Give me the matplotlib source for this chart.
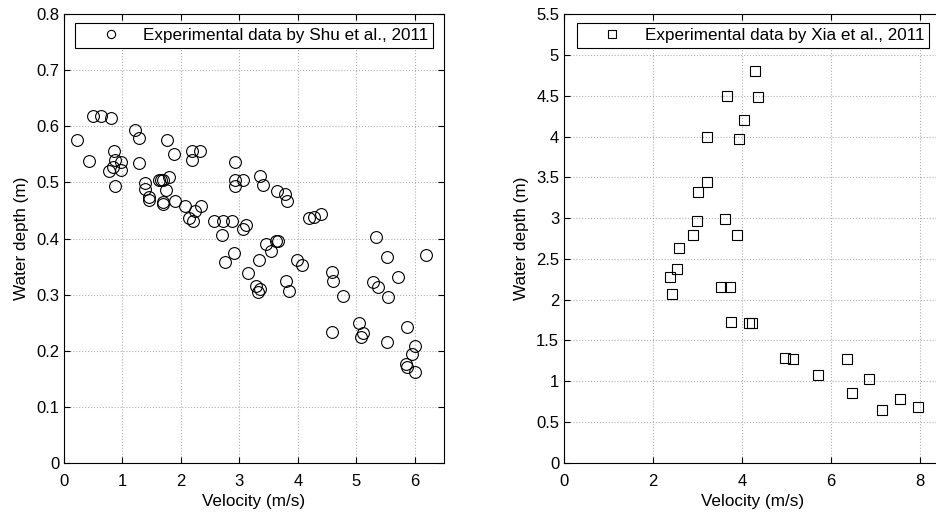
import matplotlib.pyplot as plt

plt.rcParams['font.family'] = ['Liberation Sans', 'DejaVu Sans']

# Shu et al., 2011 (velocity m/s, water depth m)
shu_v = [0.22, 0.50, 0.64, 0.80, 0.43, 0.855, 0.866, 0.97, 0.775, 0.84, 0.98, 0.88,
         1.21, 1.29, 1.29, 1.38, 1.38, 1.46, 1.46, 1.62, 1.66, 1.70, 1.79, 1.75,
         1.70, 1.70, 1.77, 1.89, 1.90, 2.07, 2.19, 2.19, 2.32, 2.14, 2.20, 2.24,
         2.34, 2.56, 2.72, 2.88, 2.70, 2.92, 2.92, 3.07, 2.92, 3.07, 3.11, 2.91,
         2.76, 3.33, 3.15, 3.29, 3.36, 3.32, 3.36, 3.41, 3.64, 3.78, 3.82, 3.45,
         3.62, 3.66, 3.54, 3.79, 3.85, 3.99, 4.07, 4.19, 4.28, 4.39, 4.59, 4.60,
         4.77, 5.33, 5.52, 6.19, 5.29, 5.37, 5.71, 5.54, 4.59, 5.04, 5.11, 5.08,
         5.53, 5.87, 6.01, 5.95, 5.85, 5.87, 6.01]
shu_h = [0.575, 0.618, 0.618, 0.615, 0.539, 0.557, 0.541, 0.536, 0.520, 0.527, 0.523, 0.493,
         0.594, 0.579, 0.535, 0.499, 0.489, 0.475, 0.468, 0.505, 0.505, 0.505, 0.509, 0.486,
         0.466, 0.461, 0.575, 0.551, 0.467, 0.458, 0.556, 0.541, 0.557, 0.436, 0.432, 0.450,
         0.458, 0.432, 0.432, 0.432, 0.407, 0.536, 0.505, 0.504, 0.493, 0.417, 0.425, 0.375,
         0.359, 0.361, 0.339, 0.316, 0.310, 0.304, 0.512, 0.496, 0.484, 0.479, 0.467, 0.391,
         0.396, 0.396, 0.377, 0.324, 0.306, 0.361, 0.352, 0.436, 0.438, 0.443, 0.341, 0.324,
         0.298, 0.402, 0.367, 0.370, 0.322, 0.313, 0.332, 0.296, 0.233, 0.249, 0.231, 0.224,
         0.216, 0.242, 0.208, 0.194, 0.177, 0.171, 0.161]

# Xia et al., 2011 (velocity m/s, water depth m)
xia_v = [4.30, 3.67, 4.37, 4.05, 3.22, 3.94, 3.22, 3.02, 3.00, 3.63, 2.91, 3.90,
         2.59, 2.53, 2.38, 2.43, 3.54, 3.74, 3.76, 4.15, 4.22, 4.96, 5.15, 6.37,
         5.71, 6.86, 6.47, 7.55, 7.14, 7.96]
xia_h = [4.81, 4.50, 4.49, 4.21, 4.00, 3.97, 3.44, 3.32, 2.97, 2.99, 2.79, 2.79,
         2.64, 2.38, 2.28, 2.07, 2.15, 2.16, 1.73, 1.72, 1.71, 1.29, 1.275, 1.27,
         1.08, 1.03, 0.86, 0.78, 0.65, 0.68]

fig = plt.figure(figsize=(9.36, 5.13), dpi=100)
ax1 = fig.add_axes([64 / 936, 0.098, 380 / 936, 0.874])
ax2 = fig.add_axes([564 / 936, 0.098, 378 / 936, 0.874])


def style(ax):
    ax.grid(True, linestyle=':', color='#b0b0b0', linewidth=0.8)
    ax.set_axisbelow(True)
    ax.tick_params(direction='in', top=True, right=True, labelsize=12, length=4)
    ax.tick_params(axis='x', pad=8)
    for s in ax.spines.values():
        s.set_linewidth(0.8)
    ax.set_xlabel('Velocity (m/s)', fontsize=12.3, labelpad=4)
    ax.set_ylabel('Water depth (m)', fontsize=12.3, labelpad=5)


ax1.plot(shu_v, shu_h, 'o', mfc='none', mec='black', ms=8.5, mew=0.8,
         label='Experimental data by Shu et al., 2011')
ax1.set_xlim(0, 6.5)
ax1.set_ylim(0, 0.8)
ax1.set_xticks([0, 1, 2, 3, 4, 5, 6])
ax1.set_yticks([0, 0.1, 0.2, 0.3, 0.4, 0.5, 0.6, 0.7, 0.8])
ax1.set_yticklabels(['0', '0.1', '0.2', '0.3', '0.4', '0.5', '0.6', '0.7', '0.8'])
style(ax1)

ax2.plot(xia_v, xia_h, 's', mfc='none', mec='black', ms=7.5, mew=0.8,
         label='Experimental data by Xia et al., 2011')
ax2.set_xlim(0, 8.5)
ax2.set_ylim(0, 5.5)
ax2.set_xticks([0, 2, 4, 6, 8])
ax2.set_yticks([0, 0.5, 1, 1.5, 2, 2.5, 3, 3.5, 4, 4.5, 5, 5.5])
ax2.set_yticklabels(['0', '0.5', '1', '1.5', '2', '2.5', '3', '3.5', '4', '4.5', '5', '5.5'])
style(ax2)

for ax in (ax1, ax2):
    leg = ax.legend(loc='upper center', fontsize=12.3, fancybox=False,
                    edgecolor='black', framealpha=1, borderpad=0.3,
                    handlelength=3.6, handletextpad=0.1, markerscale=0.7,
                    borderaxespad=0.5)
    leg.get_frame().set_linewidth(0.8)

fig.savefig('out.png', dpi=100)
